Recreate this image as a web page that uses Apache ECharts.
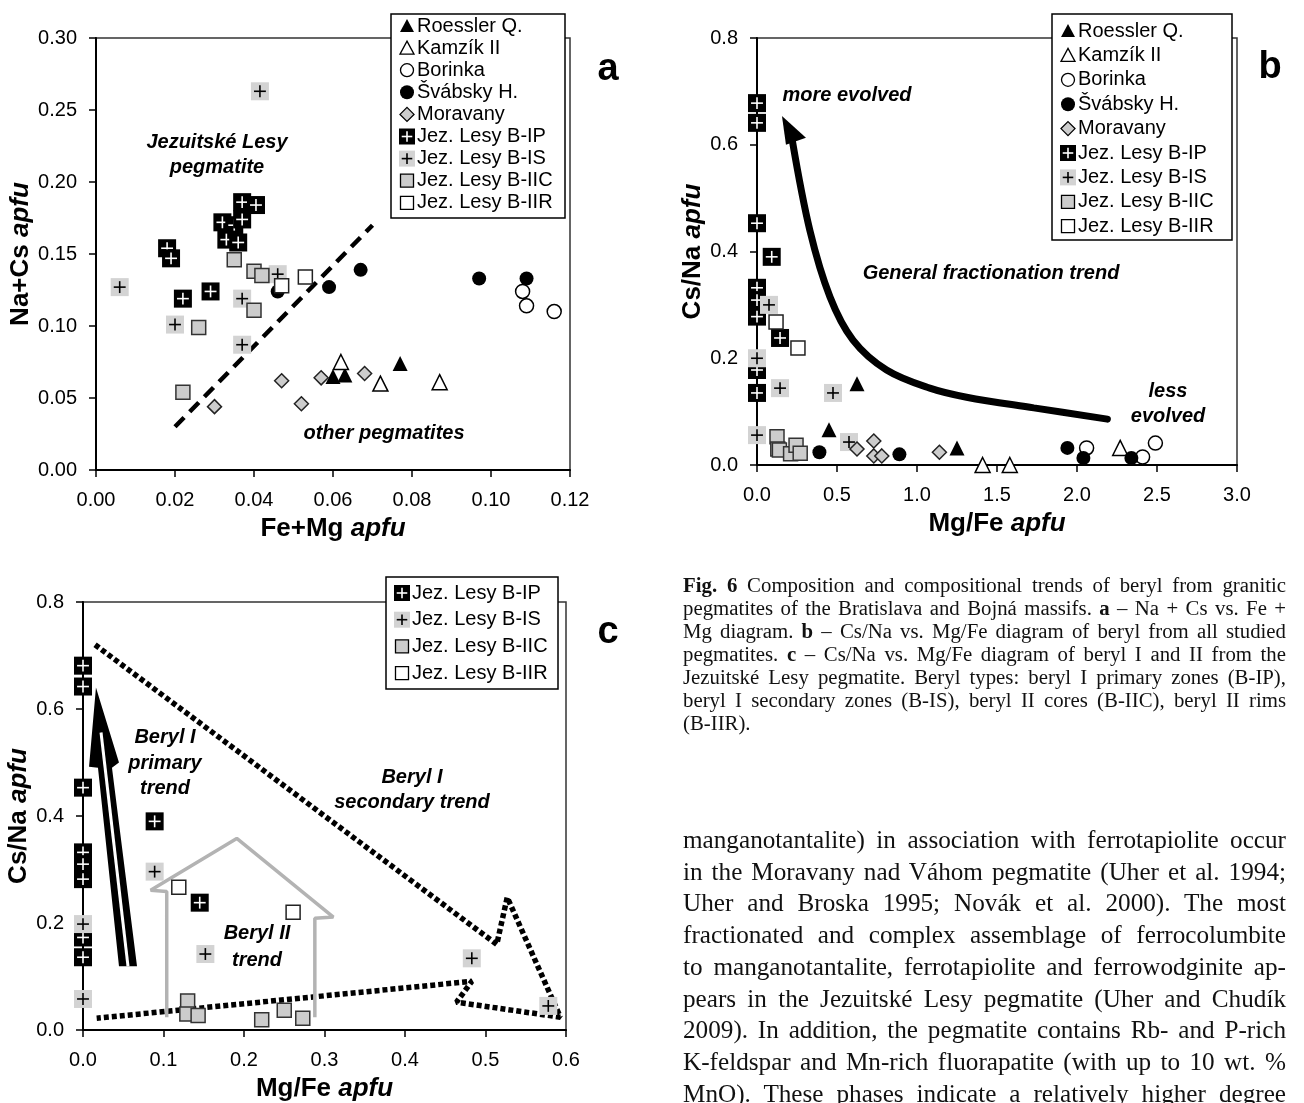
<!DOCTYPE html>
<html>
<head>
<meta charset="utf-8">
<title>Fig. 6 beryl</title>
<script src="https://cdn.jsdelivr.net/npm/echarts@6.0.0/dist/echarts.min.js"></script>
<style>
  html, body { margin: 0; padding: 0; background: #fff; }
  #chart { position: absolute; left: 0; top: 0; width: 1304px; height: 1103px; }
  .text-block { position: absolute; font-family: "Liberation Serif", "Times New Roman", serif; color: #111; }
  .text-block .ln { text-align: justify; text-align-last: justify; }
  .text-block .ln.last { text-align-last: left; }
  #caption { left: 683px; top: 573px; width: 603px; font-size: 20.8px; line-height: 23px; }
  #body { left: 683px; top: 824px; width: 603px; font-size: 25.2px; line-height: 31.7px; }
</style>
</head>
<body>
<div id="chart"></div>
<div id="caption" class="text-block"></div>
<div id="body" class="text-block"></div>
<script>
// ---- panel a: Fe+Mg vs Na+Cs (apfu)
const aRoessler = [[0.060, 0.065], [0.063, 0.066], [0.077, 0.074]];
const aKamzik = [[0.062, 0.075], [0.072, 0.060], [0.087, 0.061]];
const aBorinka = [[0.108, 0.124], [0.109, 0.114], [0.116, 0.110]];
const aSvabsky = [[0.046, 0.124], [0.059, 0.127], [0.067, 0.139], [0.097, 0.133], [0.109, 0.133]];
const aMoravany = [[0.030, 0.044], [0.047, 0.062], [0.052, 0.046], [0.057, 0.064], [0.068, 0.067]];
const aBIP = [[0.018, 0.154], [0.019, 0.147], [0.022, 0.119], [0.029, 0.124], [0.032, 0.172], [0.035, 0.170],
  [0.037, 0.174], [0.037, 0.186], [0.0405, 0.184], [0.033, 0.160], [0.036, 0.158]];
const aBIS = [[0.0415, 0.263], [0.006, 0.127], [0.020, 0.101], [0.037, 0.119], [0.037, 0.087], [0.046, 0.136]];
const aBIIC = [[0.035, 0.146], [0.040, 0.138], [0.042, 0.135], [0.040, 0.111], [0.026, 0.099], [0.022, 0.054]];
const aBIIR = [[0.053, 0.134], [0.047, 0.128]];
const aDivider = [[0.02, 0.03], [0.07, 0.17]];

// ---- panel b: Mg/Fe vs Cs/Na, all pegmatites
const bRoessler = [[0.625, 0.152], [0.45, 0.066], [1.25, 0.032]];
const bKamzik = [[1.41, 0.0], [1.58, 0.0], [2.27, 0.032]];
const bBorinka = [[2.06, 0.032], [2.41, 0.015], [2.49, 0.041]];
const bSvabsky = [[0.39, 0.024], [0.89, 0.020], [1.94, 0.032], [2.04, 0.013], [2.34, 0.013]];
const bMoravany = [[0.73, 0.045], [0.625, 0.030], [0.73, 0.017], [0.78, 0.017], [1.14, 0.024]];
const bBIP = [[0, 0.678], [0, 0.641], [0, 0.453], [0.092, 0.390], [0, 0.332], [0, 0.309], [0, 0.278],
  [0.144, 0.238], [0, 0.178], [0, 0.135]];
const bBIS = [[0.075, 0.300], [0, 0.200], [0.144, 0.144], [0.475, 0.135], [0, 0.056], [0.575, 0.043]];
const bBIIC = [[0.125, 0.053], [0.13, 0.030], [0.14, 0.028], [0.21, 0.021], [0.244, 0.037], [0.27, 0.022]];
const bBIIR = [[0.119, 0.268], [0.256, 0.219]];
const bTrend = [[0.22, 0.609], [0.33, 0.44], [0.456, 0.315], [0.6, 0.234], [0.81, 0.178], [1.08, 0.144],
  [1.31, 0.127], [1.73, 0.107], [2.19, 0.086]];
const bTrendHead = [[0.156, 0.654], [0.306, 0.613], [0.181, 0.600]];

// ---- panel c: Mg/Fe vs Cs/Na, Jezuitske Lesy only
const cBIP = [[0, 0.681], [0, 0.642], [0, 0.453], [0.089, 0.390], [0, 0.332], [0, 0.310], [0, 0.282],
  [0.145, 0.238], [0, 0.173], [0, 0.136]];
const cBIS = [[0.089, 0.296], [0, 0.198], [0.152, 0.142], [0, 0.058], [0.483, 0.134], [0.578, 0.045]];
const cBIIC = [[0.13, 0.054], [0.129, 0.030], [0.143, 0.027], [0.222, 0.019], [0.25, 0.037], [0.273, 0.022]];
const cBIIR = [[0.119, 0.267], [0.261, 0.220]];
const cPrimaryArrow = [[0.0447, 0.119], [0.0671, 0.119], [0.036, 0.490], [0.0447, 0.500], [0.0161, 0.640],
  [0.0075, 0.492], [0.0186, 0.490]];
const cPrimarySplit = [[0.0559, 0.119], [0.0224, 0.556]];
const cSecondary = [[0.015, 0.72], [0.514, 0.16], [0.527, 0.248], [0.593, 0.024], [0.464, 0.052],
  [0.483, 0.091], [0.017, 0.022]];
const cBeryl2 = [[0.104, 0.024], [0.104, 0.259], [0.084, 0.261], [0.191, 0.358], [0.311, 0.211],
  [0.288, 0.209], [0.288, 0.024]];

const captionLines = [
  "<b>Fig. 6</b> Composition and compositional trends of beryl from granitic",
  "pegmatites of the Bratislava and Bojná massifs. <b>a</b> – Na + Cs vs. Fe +",
  "Mg diagram. <b>b</b> – Cs/Na vs. Mg/Fe diagram of beryl from all studied",
  "pegmatites. <b>c</b> – Cs/Na vs. Mg/Fe diagram of beryl I and II from the",
  "Jezuitské Lesy pegmatite. Beryl types: beryl I primary zones (B-IP),",
  "beryl I secondary zones (B-IS), beryl II cores (B-IIC), beryl II rims",
  "(B-IIR)."
];
const bodyLines = [
  "manganotantalite) in association with ferrotapiolite occur",
  "in the Moravany nad Váhom pegmatite (Uher et al. 1994;",
  "Uher and Broska 1995; Novák et al. 2000). The most",
  "fractionated and complex assemblage of ferrocolumbite",
  "to manganotantalite, ferrotapiolite and ferrowodginite ap-",
  "pears in the Jezuitské Lesy pegmatite (Uher and Chudík",
  "2009). In addition, the pegmatite contains Rb- and P-rich",
  "K-feldspar and Mn-rich fluorapatite (with up to 10 wt. %",
  "MnO). These phases indicate a relatively higher degree"
];

function fillLines(id, lines, lastLeft) {
  document.getElementById(id).innerHTML = lines
    .map((t, i) => `<div class="ln${lastLeft && i === lines.length - 1 ? " last" : ""}">${t}</div>`)
    .join("");
}
fillLines("caption", captionLines, true);
fillLines("body", bodyLines, false);

const SANS = '"Liberation Sans", Arial, sans-serif';
const GRAY = "#cccccc";
const chart = echarts.init(document.getElementById("chart"));

function axisName(main) {
  return {
    name: `{n|${main}} {i|apfu}`,
    nameLocation: "middle",
    nameTextStyle: {
      fontSize: 26, fontWeight: "bold", fontFamily: SANS, color: "#000",
      rich: {
        n: { fontSize: 26, fontWeight: "bold", fontFamily: SANS, color: "#000" },
        i: { fontSize: 26, fontWeight: "bold", fontStyle: "italic", fontFamily: SANS, color: "#000" }
      }
    }
  };
}

function valueAxis(gi, min, max, step, digits, title, gap, isY) {
  return Object.assign(axisName(title), {
    type: "value", gridIndex: gi, min, max, interval: step, nameGap: gap,
    axisLine: { show: true, onZero: false, lineStyle: { color: "#000", width: 2 } },
    axisTick: { show: true, inside: false, length: 7, lineStyle: { color: "#000", width: 1.5 } },
    axisLabel: {
      show: true, margin: isY ? 19 : 20, fontSize: 20, fontFamily: SANS, color: "#000",
      showMinLabel: true, showMaxLabel: true,
      formatter: (v) => v.toFixed(digits)
    },
    splitLine: { show: false }
  });
}

function scatter(data, gi, symbol, size, fill, stroke) {
  return {
    type: "scatter", data, xAxisIndex: gi, yAxisIndex: gi, symbol, symbolSize: size, clip: false,
    silent: true, z: 3,
    itemStyle: { color: fill, borderColor: stroke || fill, borderWidth: stroke ? 1.5 : 0, opacity: 1 }
  };
}

function plusGlyph(x, y, s, bg, fg) {
  const h = s * 0.33;
  return {
    type: "group",
    children: [
      { type: "rect", shape: { x: x - s / 2, y: y - s / 2, width: s, height: s }, style: { fill: bg } },
      { type: "line", shape: { x1: x - h, y1: y, x2: x + h, y2: y }, style: { stroke: fg, lineWidth: 1.6 } },
      { type: "line", shape: { x1: x, y1: y - h, x2: x, y2: y + h }, style: { stroke: fg, lineWidth: 1.6 } }
    ]
  };
}

function plusSeries(data, gi, bg, fg) {
  return {
    type: "custom", coordinateSystem: "cartesian2d", data, xAxisIndex: gi, yAxisIndex: gi,
    encode: { x: 0, y: 1 }, clip: false, silent: true, z: 3,
    renderItem(params, api) {
      const p = api.coord([api.value(0), api.value(1)]);
      return plusGlyph(p[0], p[1], 18, bg, fg);
    }
  };
}

function pathSeries(data, gi, lineStyle, smooth) {
  return {
    type: "line", data, xAxisIndex: gi, yAxisIndex: gi, symbol: "none", silent: true,
    smooth: smooth || false, clip: false, z: 2, lineStyle
  };
}

function polygonSeries(points, gi, fill) {
  return {
    type: "custom", coordinateSystem: "cartesian2d", data: [points[0]], xAxisIndex: gi, yAxisIndex: gi,
    encode: { x: 0, y: 1 }, clip: false, silent: true, z: 2,
    renderItem(params, api) {
      return { type: "polygon", shape: { points: points.map((p) => api.coord(p)) }, style: { fill } };
    }
  };
}

function allPegmatiteSeries(gi, d) {
  return [
    scatter(d.roessler, gi, "triangle", 15, "#000"),
    scatter(d.kamzik, gi, "triangle", 15, "#fff", "#000"),
    scatter(d.borinka, gi, "circle", 14, "#fff", "#000"),
    scatter(d.svabsky, gi, "circle", 14, "#000"),
    scatter(d.moravany, gi, "diamond", [14, 14], GRAY, "#222"),
    ...jezuitskeSeries(gi, d)
  ];
}

function jezuitskeSeries(gi, d) {
  return [
    plusSeries(d.bip, gi, "#000", "#fff"),
    plusSeries(d.bis, gi, "#d3d3d3", "#000"),
    scatter(d.biic, gi, "rect", 14, GRAY, "#333"),
    scatter(d.biir, gi, "rect", 14, "#fff", "#222")
  ];
}

// ---- legend glyphs (pixel space)
function glyph(kind, x, y) {
  const stroke = { stroke: "#000", lineWidth: 1.3 };
  switch (kind) {
    case "triFill": return { type: "polygon", shape: { points: [[x, y - 7], [x + 7, y + 6], [x - 7, y + 6]] }, style: { fill: "#000" } };
    case "triOpen": return { type: "polygon", shape: { points: [[x, y - 7], [x + 7, y + 6], [x - 7, y + 6]] }, style: Object.assign({ fill: "#fff" }, stroke) };
    case "circOpen": return { type: "circle", shape: { cx: x, cy: y, r: 6.5 }, style: Object.assign({ fill: "#fff" }, stroke) };
    case "circFill": return { type: "circle", shape: { cx: x, cy: y, r: 7 }, style: { fill: "#000" } };
    case "diamond": return { type: "polygon", shape: { points: [[x, y - 7], [x + 7, y], [x, y + 7], [x - 7, y]] }, style: Object.assign({ fill: GRAY }, stroke) };
    case "bip": return plusGlyph(x, y, 16, "#000", "#fff");
    case "bis": return plusGlyph(x, y, 16, "#d3d3d3", "#000");
    case "iic": return { type: "rect", shape: { x: x - 6.5, y: y - 6.5, width: 13, height: 13 }, style: Object.assign({ fill: GRAY }, stroke) };
    default: return { type: "rect", shape: { x: x - 6.5, y: y - 6.5, width: 13, height: 13 }, style: Object.assign({ fill: "#fff" }, stroke) };
  }
}

const allLegend = [["triFill", "Roessler Q."], ["triOpen", "Kamzík II"], ["circOpen", "Borinka"],
  ["circFill", "Švábsky H."], ["diamond", "Moravany"], ["bip", "Jez. Lesy B-IP"], ["bis", "Jez. Lesy B-IS"],
  ["iic", "Jez. Lesy B-IIC"], ["iir", "Jez. Lesy B-IIR"]];
const jezLegend = allLegend.slice(5);

function legendBox(left, top, width, height, firstRow, rowH, items) {
  const children = [{
    type: "rect", shape: { x: left, y: top, width, height },
    style: { fill: "#fff", stroke: "#000", lineWidth: 1.5 }
  }];
  items.forEach(([kind, label], i) => {
    const y = firstRow + rowH * i;
    children.push(glyph(kind, left + 16, y));
    children.push({
      type: "text", x: left + 26, y,
      style: { text: label, font: `20px ${SANS}`, fill: "#000", align: "left", verticalAlign: "middle",
        textAlign: "left", textVerticalAlign: "middle" }
    });
  });
  return { type: "group", z: 10, children };
}

function note(text, x, y, size) {
  return {
    type: "text", x, y, z: 9,
    style: { text, font: `italic bold ${size || 20}px ${SANS}`, fill: "#000", align: "center",
      verticalAlign: "middle", textAlign: "center", textVerticalAlign: "middle" }
  };
}

function panelLetter(text, x, y) {
  return {
    type: "text", x, y, z: 9,
    style: { text, font: `bold 38px ${SANS}`, fill: "#000", align: "center", verticalAlign: "middle",
      textAlign: "center", textVerticalAlign: "middle" }
  };
}

const gridBox = { show: true, borderColor: "#333", borderWidth: 1.5, backgroundColor: "transparent" };

chart.setOption({
  animation: false,
  backgroundColor: "#fff",
  grid: [
    Object.assign({ left: 96, top: 38, width: 474, height: 432 }, gridBox),
    Object.assign({ left: 757, top: 38, width: 480, height: 427 }, gridBox),
    Object.assign({ left: 83, top: 602, width: 483, height: 429 }, gridBox)
  ],
  xAxis: [
    valueAxis(0, 0, 0.12, 0.02, 2, "Fe+Mg", 46, false),
    valueAxis(1, 0, 3, 0.5, 1, "Mg/Fe", 46, false),
    valueAxis(2, 0, 0.6, 0.1, 1, "Mg/Fe", 46, false)
  ],
  yAxis: [
    valueAxis(0, 0, 0.3, 0.05, 2, "Na+Cs", 54, true),
    valueAxis(1, 0, 0.8, 0.2, 1, "Cs/Na", 48, true),
    valueAxis(2, 0, 0.8, 0.2, 1, "Cs/Na", 49, true)
  ],
  series: [
    pathSeries(aDivider, 0, { color: "#000", width: 4.5, type: [13, 8] }),
    ...allPegmatiteSeries(0, { roessler: aRoessler, kamzik: aKamzik, borinka: aBorinka, svabsky: aSvabsky,
      moravany: aMoravany, bip: aBIP, bis: aBIS, biic: aBIIC, biir: aBIIR }),

    pathSeries(bTrend, 1, { color: "#000", width: 7, cap: "round" }, 0.35),
    polygonSeries(bTrendHead, 1, "#000"),
    ...allPegmatiteSeries(1, { roessler: bRoessler, kamzik: bKamzik, borinka: bBorinka, svabsky: bSvabsky,
      moravany: bMoravany, bip: bBIP, bis: bBIS, biic: bBIIC, biir: bBIIR }),

    pathSeries(cSecondary, 2, { color: "#000", width: 5.5, type: [5, 3] }),
    pathSeries(cBeryl2, 2, { color: "#b3b3b3", width: 3.5 }),
    polygonSeries(cPrimaryArrow, 2, "#000"),
    pathSeries(cPrimarySplit, 2, { color: "#fff", width: 3 }),
    ...jezuitskeSeries(2, { bip: cBIP, bis: cBIS, biic: cBIIC, biir: cBIIR })
  ],
  graphic: [
    legendBox(391, 14, 174, 204, 26, 22.1, allLegend),
    legendBox(1052, 14, 180, 226, 31, 24.4, allLegend),
    legendBox(386, 577, 172, 112, 593, 26.7, jezLegend),
    panelLetter("a", 608, 70),
    panelLetter("b", 1270, 68),
    panelLetter("c", 608, 633),
    note("Jezuitské Lesy", 217, 142),
    note("pegmatite", 217, 167),
    note("other pegmatites", 384, 433),
    note("more evolved", 847, 95),
    note("General fractionation trend", 991, 273),
    note("less", 1168, 391),
    note("evolved", 1168, 416),
    note("Beryl I", 165, 737),
    note("primary", 165, 763),
    note("trend", 165, 788),
    note("Beryl I", 412, 777),
    note("secondary trend", 412, 802),
    note("Beryl II", 257, 933),
    note("trend", 257, 960)
  ]
});
</script>
</body>
</html>
